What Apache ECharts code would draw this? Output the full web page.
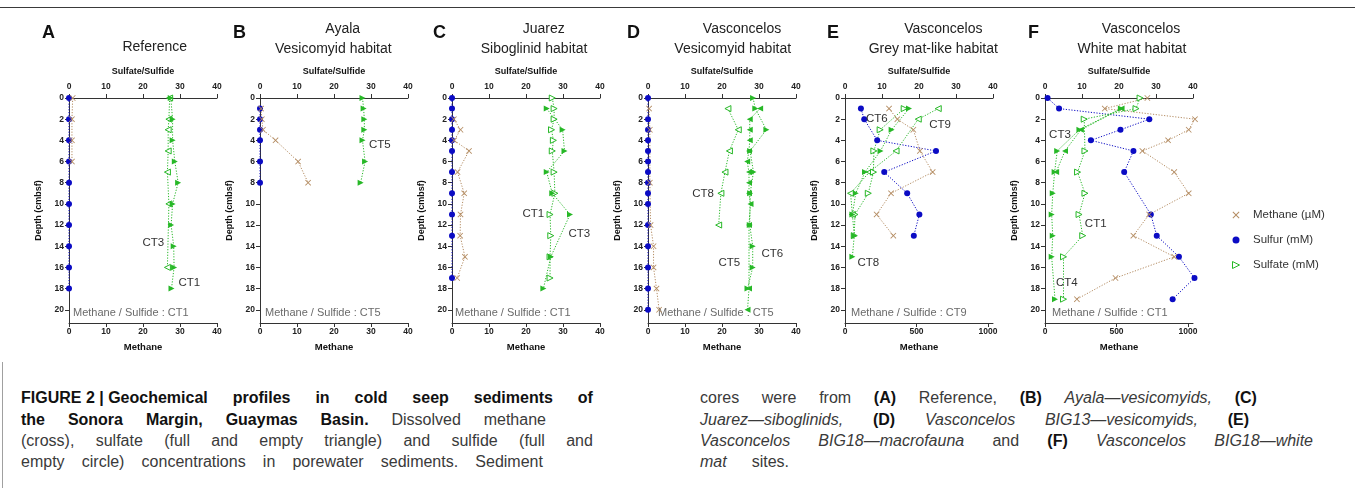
<!DOCTYPE html>
<html>
<head>
<meta charset="utf-8">
<script src="https://cdn.jsdelivr.net/npm/echarts@6.0.0/dist/echarts.min.js"></script>
<style>
  html, body { margin:0; padding:0; background:#fff; }
  body { width:1355px; height:488px; position:relative; overflow:hidden; }
  #chart { position:absolute; left:0; top:0; width:1355px; height:362px; }
  .rule-top { position:absolute; left:0; top:7px; width:1355px; height:1px; background:#3a3a3a; }
  .rule-left { position:absolute; left:2px; top:362px; width:1px; height:126px; background:#a0a0a0; }
  .cap { position:absolute; display:flex; justify-content:space-between; height:20px; line-height:20px;
         font-family:'Liberation Sans', Arial, sans-serif; font-size:16px; color:#3a3a3a; white-space:nowrap; }
  .cap .b { font-weight:bold; color:#111; }
  .cap .i { font-style:italic; }
</style>
</head>
<body>
<div id="chart"></div>
<div class="rule-top"></div>
<div class="rule-left"></div>
<div id="caption"></div>
<script>
// ---------- axes ----------
const depthTicks = [0, 2, 4, 6, 8, 10, 12, 14, 16, 18, 20];
const depthMax = 21.25;
const sulfMax = 40;                       // Sulfate/Sulfide axis (mM)
const methaneMax = [40, 40, 40, 40, 1035, 1035];   // Methane axis per panel (µM)
const methaneTicks = [[0,10,20,30,40],[0,10,20,30,40],[0,10,20,30,40],[0,10,20,30,40],[0,500,1000],[0,500,1000]];

// ---------- panel texts ----------
const panelLetters = ['A', 'B', 'C', 'D', 'E', 'F'];
const panelTitles = [
  ['Reference'],
  ['Ayala', 'Vesicomyid habitat'],
  ['Juarez', 'Siboglinid habitat'],
  ['Vasconcelos', 'Vesicomyid habitat'],
  ['Vasconcelos', 'Grey mat-like habitat'],
  ['Vasconcelos', 'White mat habitat']
];
const methaneCores = ['CT1', 'CT5', 'CT1', 'CT5', 'CT9', 'CT1'];

// ---------- profiles: [concentration, depth (cmbsf)] ----------
// A  Reference
const A_sulfide = [[0,0],[0,2],[0,4],[0,6],[0,8],[0,10],[0,12],[0,14],[0,16],[0,18]];
const A_methane = [[1.0,0],[0.8,2],[0.8,4],[0.8,6]];
const A_sulfateCT1 = [[27.5,0],[28.0,2],[28.0,4],[28.6,6],[29.5,8],[28.0,10],[27.6,12],[28.3,14],[28.4,16],[27.7,18]];
const A_sulfateCT3 = [[27.2,0],[27.0,2],[26.8,3],[26.8,5],[26.6,7],[27.0,10],[26.6,16]];
// B  Ayala
const B_sulfide = [[0,1],[0,2],[0,3],[0,4],[0,6],[0,8]];
const B_methane = [[0.3,1],[0.5,2],[0.8,3],[4.2,4],[10.3,6],[13.0,8]];
const B_sulfateCT5 = [[27.7,0],[28.0,1],[28.2,2],[28.2,3],[27.7,4],[28.4,6],[27.2,8]];
// C  Juarez
const C_sulfide = [[0,0],[0,1],[0,2],[0,3],[0,4],[0,5],[0,7],[0,9],[0,11],[0,13],[0,17]];
const C_methane = [[0.5,2],[2.3,3],[0.6,4],[4.6,5],[1.5,7],[3.3,9],[2.3,11],[2.2,13],[3.5,15],[1.4,17]];
const C_sulfateCT3 = [[25.6,1],[29.9,3],[30.4,5],[25.6,7],[27.1,9],[31.9,11],[26.7,15],[24.7,18]];
const C_sulfateCT1 = [[27.1,0],[27.6,1],[27.6,2],[26.9,3],[27.4,4],[27.1,5],[27.6,7],[27.8,9],[26.5,11],[26.7,13],[26.5,15],[26.5,17]];
// D  Vasconcelos, vesicomyids
const D_sulfide = [[0,0],[0,2],[0,3],[0,4],[0,5],[0,6],[0,7],[0,8],[0,9],[0,10],[0,12],[0,14],[0,16],[0,18],[0,20]];
const D_methane = [[0.3,1],[0.5,3],[0.5,8],[0.7,12],[1.5,14],[1.5,16],[2.3,18],[3.0,20]];
const D_sulfateCT8 = [[21.6,1],[24.4,3],[22.0,5],[20.8,7],[19.7,9],[19.1,12]];
const D_sulfateCT6 = [[28.4,0],[29.0,1],[32.0,3],[27.6,5],[28.5,7],[27.6,9],[27.5,12],[28.3,14],[28.3,16],[26.9,18]];
const D_sulfateCT5 = [[30.3,1],[27.5,2],[27.5,3],[27.5,4],[27.3,5],[26.8,6],[27.3,7],[27.3,8],[27.3,9],[27.7,10],[27.3,12],[27.3,18],[26.9,20]];
// E  Vasconcelos, grey mat-like
const E_sulfide = [[4.3,1],[5.2,2],[8.7,4],[24.6,5],[10.6,7],[16.8,9],[20.1,11],[18.6,13]];
const E_methane = [[308,1],[366,2],[478,3],[524,5],[613,7],[322,9],[221,11],[338,13]];
const E_sulfateCT8 = [[17.3,1],[12.6,3],[9.6,5],[5.4,7],[2.9,9],[2.0,11],[2.5,13],[2.0,15]];
const E_sulfateCT6 = [[16.0,1],[9.5,3],[7.8,5],[7.7,7],[6.3,9],[2.7,11],[2.5,13]];
const E_sulfateCT9 = [[25.2,1],[19.8,2],[13.8,5],[6.6,7],[1.5,9],[2.0,11]];
// F  Vasconcelos, white mat
const F_sulfide = [[0.7,0],[3.8,1],[28.2,2],[20.4,3],[12.4,4],[23.9,5],[21.4,7],[28.6,11],[30.2,13],[36.2,15],[40.4,17],[34.5,19]];
const F_methane = [[716,0],[418,1],[1049,2],[1005,3],[861,4],[681,5],[904,7],[1005,9],[728,11],[618,13],[904,15],[493,17],[223,19]];
const F_sulfateCT1 = [[25.7,0],[24.6,1],[10.6,2],[10.8,5],[8.8,7],[10.8,9],[9.2,11],[10.2,13],[5.0,15],[5.0,19]];
const F_sulfateCT3 = [[20.7,1],[9.7,3],[5.4,5],[3.0,7]];
const F_sulfateCT4 = [[20.5,1],[9.3,3],[3.3,5],[2.6,7],[2.1,9],[1.8,11],[2.1,13],[1.8,15],[2.7,19]];

// core labels: [text, sulfate value, depth]
const coreLabels = [
  [['CT3', 22.8, 13.7], ['CT1', 32.5, 17.5]],
  [['CT5', 32.4, 4.45]],
  [['CT1', 22.0, 10.9], ['CT3', 34.4, 12.8]],
  [['CT8', 14.9, 9.07], ['CT6', 33.6, 14.7], ['CT5', 22.0, 15.6]],
  [['CT6', 8.6, 1.98], ['CT9', 25.7, 2.5], ['CT8', 6.3, 15.6]],
  [['CT3', 4.05, 3.5], ['CT1', 13.7, 11.85], ['CT4', 5.9, 17.5]]
];

// ---------- styling ----------
const BLUE = '#0b0bc4', GREEN = '#27b827', BROWN = '#b48c62', AXIS = '#333';
const CROSS = 'path://M1,0L5,4L9,0L10,1L6,5L10,9L9,10L5,6L1,10L0,9L4,5L0,1Z';
const FONT = "'Liberation Sans', Arial, sans-serif";
const gridLeft = [69, 260, 452, 648, 845, 1045];
const gridW = 148, gridTop = 98, gridH = 225;

const NAME_METHANE = 'Methane (µM)', NAME_SULFIDE = 'Sulfur (mM)', NAME_SULFATE = 'Sulfate (mM)';

// marker kinds for sulfate cores
const FILL_R = { symbol: 'triangle', rotate: -90, empty: false };
const FILL_L = { symbol: 'triangle', rotate: 90, empty: false };
const OPEN_R = { symbol: 'triangle', rotate: -90, empty: true };
const OPEN_L = { symbol: 'triangle', rotate: 90, empty: true };

function profile(name, data, g, onTop, color, mark, size) {
  return {
    type: 'line', name, data,
    xAxisIndex: onTop ? 2 * g : 2 * g + 1, yAxisIndex: g,
    symbol: mark.symbol, symbolRotate: mark.rotate || 0, symbolSize: size || 6,
    symbolKeepAspect: true, showAllSymbol: true, clip: false, animation: false,
    lineStyle: { color, width: 1, type: [1.2, 1.6] },
    itemStyle: mark.empty ? { color: '#fff', borderColor: color, borderWidth: 1 } : { color },
    emphasis: { disabled: true }
  };
}
function withLabels(s, list) {
  s.markPoint = {
    symbol: 'rect', symbolSize: 1, silent: true, animation: false,
    itemStyle: { color: 'rgba(0,0,0,0)' },
    label: { show: true, position: 'inside', formatter: '{b}', fontSize: 11.5, color: '#333', fontFamily: FONT },
    data: list.map(l => ({ name: l[0], coord: [l[1], l[2]] }))
  };
  return s;
}

const SULFIDE = { symbol: 'circle' }, METHANE = { symbol: CROSS };
const panels = [
  { sulfide: A_sulfide, methane: A_methane, sulfate: [[A_sulfateCT3, OPEN_L], [A_sulfateCT1, FILL_R]] },
  { sulfide: B_sulfide, methane: B_methane, sulfate: [[B_sulfateCT5, FILL_R]] },
  { sulfide: C_sulfide, methane: C_methane, sulfate: [[C_sulfateCT1, OPEN_R], [C_sulfateCT3, FILL_R]] },
  { sulfide: D_sulfide, methane: D_methane, sulfate: [[D_sulfateCT8, OPEN_L], [D_sulfateCT5, FILL_L], [D_sulfateCT6, FILL_R]] },
  { sulfide: E_sulfide, methane: E_methane, sulfate: [[E_sulfateCT9, OPEN_L], [E_sulfateCT6, OPEN_R], [E_sulfateCT8, FILL_R]] },
  { sulfide: F_sulfide, methane: F_methane, sulfate: [[F_sulfateCT1, OPEN_R], [F_sulfateCT3, FILL_L], [F_sulfateCT4, FILL_R]] }
];

const grids = [], xAxes = [], yAxes = [], series = [], graphics = [];
const plainNumber = v => String(v);
const tickLabel = { fontSize: 8.5, fontWeight: 'bold', color: '#222', fontFamily: FONT, formatter: plainNumber };
const axisName = { fontSize: 9, fontWeight: 'bold', color: '#111', fontFamily: FONT };

panels.forEach((p, g) => {
  grids.push({ left: gridLeft[g], top: gridTop, width: gridW, height: gridH });
  xAxes.push({
    gridIndex: g, type: 'value', position: 'top', min: 0, max: sulfMax, interval: 10,
    name: 'Sulfate/Sulfide', nameLocation: 'middle', nameGap: 22, nameTextStyle: axisName,
    axisLine: { show: true, onZero: false, lineStyle: { color: AXIS, width: 1 } },
    axisTick: { show: true, length: 4, lineStyle: { color: AXIS } },
    axisLabel: Object.assign({ margin: 7 }, tickLabel), splitLine: { show: false }
  });
  xAxes.push({
    gridIndex: g, type: 'value', position: 'bottom', min: 0, max: methaneMax[g],
    name: 'Methane', nameLocation: 'middle', nameGap: 19, nameTextStyle: Object.assign({}, axisName, { fontSize: 9.5 }),
    axisLine: { show: true, onZero: false, lineStyle: { color: AXIS, width: 1 } },
    axisTick: { show: true, length: 4, lineStyle: { color: AXIS }, customValues: methaneTicks[g] },
    axisLabel: Object.assign({ margin: 4, customValues: methaneTicks[g] }, tickLabel), splitLine: { show: false }
  });
  yAxes.push({
    gridIndex: g, type: 'value', inverse: true, min: 0, max: depthMax,
    name: 'Depth (cmbsf)', nameLocation: 'middle', nameGap: 26, nameRotate: 90, nameTextStyle: axisName,
    axisLine: { show: true, onZero: false, lineStyle: { color: AXIS, width: 1 } },
    axisTick: { show: true, length: 4, lineStyle: { color: AXIS }, customValues: depthTicks },
    axisLabel: Object.assign({ margin: 5, customValues: depthTicks }, tickLabel), splitLine: { show: false }
  });

  series.push(profile(NAME_SULFIDE, p.sulfide, g, true, BLUE, SULFIDE, 6));
  series.push(profile(NAME_METHANE, p.methane, g, false, BROWN, METHANE, 6));
  p.sulfate.forEach((s, k) => {
    const ser = profile(NAME_SULFATE, s[0], g, true, GREEN, s[1], 6);
    series.push(k === 0 ? withLabels(ser, coreLabels[g]) : ser);
  });
});

// panel letters, titles and the methane/sulfide core note
const letterX = [42, 233, 433, 627, 827, 1028];
const titleX = [[154.7], [342.7, 333.3], [543.7, 534], [742, 732.7], [943.3, 933.3], [1141, 1132]];
const noteDx = [4, 5, 3, 10, 6, 7];
panelLetters.forEach((L, g) => {
  graphics.push({ type: 'text', x: letterX[g], y: 33, silent: true,
    style: { text: L, font: "bold 18px " + FONT, fill: '#111', textAlign: 'left', textVerticalAlign: 'middle' } });
  const lines = panelTitles[g];
  const ys = lines.length === 1 ? [47.3] : [29.3, 49.3];
  lines.forEach((t, k) => graphics.push({ type: 'text', x: titleX[g][k], y: ys[k], silent: true,
    style: { text: t, font: "14px " + FONT, fill: '#222', textAlign: 'center', textVerticalAlign: 'middle' } }));
  graphics.push({ type: 'text', x: gridLeft[g] + noteDx[g], y: 313, silent: true,
    style: { text: 'Methane / Sulfide : ' + methaneCores[g], font: "11px " + FONT, fill: '#6a6a6a', textAlign: 'left', textVerticalAlign: 'middle' } });
});

const chart = echarts.init(document.getElementById('chart'), null, { renderer: 'canvas' });
chart.setOption({
  backgroundColor: '#fff',
  animation: false,
  grid: grids, xAxis: xAxes, yAxis: yAxes, series,
  legend: {
    orient: 'vertical', left: 1227, top: 204, itemWidth: 16, itemHeight: 7, itemGap: 13,
    selectedMode: false,
    textStyle: { fontSize: 11.5, color: '#333', fontFamily: FONT, padding: [0, 0, 0, 4] },
    data: [
      { name: NAME_METHANE, icon: CROSS },
      { name: NAME_SULFIDE, icon: 'circle' },
      { name: NAME_SULFATE, icon: 'path://M0,0L10,5L0,10Z', itemStyle: { color: '#fff', borderColor: GREEN, borderWidth: 1 } }
    ]
  },
  graphic: graphics
});

// ---------- caption ----------
const captionLines = [
  { x: 21, y: 398, w: 572, parts: [['b', 'FIGURE\u00a02\u00a0|\u00a0Geochemical profiles in cold seep sediments of']] },
  { x: 21, y: 419.5, w: 525, parts: [['b', 'the Sonora Margin, Guaymas Basin.'], ['r', 'Dissolved methane']] },
  { x: 21, y: 440.5, w: 572, parts: [['r', '(cross), sulfate (full and empty triangle) and sulfide (full and']] },
  { x: 21, y: 461.5, w: 522, parts: [['r', 'empty circle) concentrations in porewater sediments. Sediment']] },
  { x: 700, y: 398, w: 557, parts: [['r', 'cores were from'], ['b', '(A)'], ['r', 'Reference,'], ['b', '(B)'], ['i', 'Ayala—vesicomyids,'], ['b', '(C)']] },
  { x: 700, y: 419.5, w: 549, parts: [['i', 'Juarez—siboglinids,'], ['b', '(D)'], ['i', 'Vasconcelos BIG13—vesicomyids,'], ['b', '(E)']] },
  { x: 700, y: 440.5, w: 613, parts: [['i', 'Vasconcelos BIG18—macrofauna'], ['r', 'and'], ['b', '(F)'], ['i', 'Vasconcelos BIG18—white']] },
  { x: 700, y: 461.5, w: 89, parts: [['i', 'mat'], ['r', 'sites.']] }
];
const cap = document.getElementById('caption');
captionLines.forEach(line => {
  const div = document.createElement('div');
  div.className = 'cap';
  div.style.left = line.x + 'px';
  div.style.top = (line.y - 10) + 'px';
  div.style.width = line.w + 'px';
  line.parts.forEach(([cls, text]) => {
    text.split(' ').forEach(word => {
      const s = document.createElement('span');
      if (cls !== 'r') s.className = cls;
      s.textContent = word;
      div.appendChild(s);
    });
  });
  cap.appendChild(div);
});
</script>
</body>
</html>
